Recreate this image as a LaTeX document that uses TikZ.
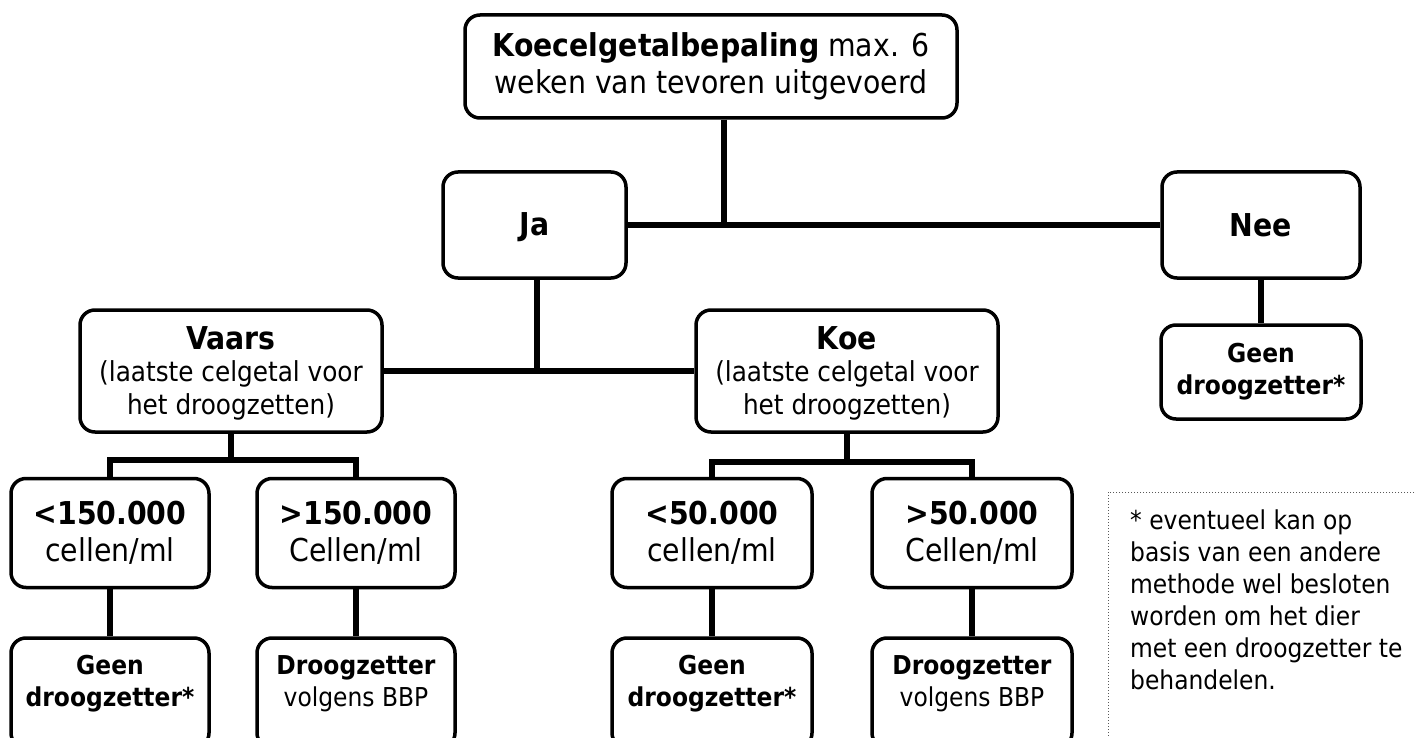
\documentclass[tikz,border=0pt]{standalone}
\usepackage{fontspec}
\setmainfont{DejaVu Sans Condensed}
\newcommand\maintxt{\fontsize{31.5}{37}\selectfont}
\newcommand\subtxt{\fontsize{27.5}{33}\selectfont}
\newcommand\lowtxt{\fontsize{26}{32}\selectfont}

\begin{document}
\begin{tikzpicture}[x=1pt,y=-1pt,
        box/.style={draw, line width=3.5pt, rounded corners=15pt, align=center, inner sep=0pt, font=\maintxt},
        lowbox/.style={box, font=\lowtxt, minimum width=198, minimum height=110, text depth=24pt},
        link/.style={line width=5.5pt}]
        \useasboundingbox (0,0) rectangle (1416,738);
        \clip (0,0) rectangle (1416,738);

        % top levels
        \node[box, minimum width=492, minimum height=103] (test) at (711,66.5)
            {\textbf{Koecelgetalbepaling} max. 6\\weken van tevoren uitgevoerd};
        \node[box, minimum width=183, minimum height=106, text depth=2pt] (ja) at (534.5,225) {\textbf{Ja}};
        \node[box, minimum width=198, minimum height=106] (nee) at (1261,225) {\textbf{Nee}};
        \coordinate (split) at (724,226);

        \node[box, minimum width=302, minimum height=122, text depth=0pt] (vaars) at (231,371)
            {\textbf{Vaars}\\[-5pt]\subtxt (laatste celgetal voor\\[-4pt]\subtxt het droogzetten)};
        \node[box, minimum width=302, minimum height=122, text depth=0pt] (koe) at (847,371)
            {\textbf{Koe}\\[-5pt]\subtxt (laatste celgetal voor\\[-4pt]\subtxt het droogzetten)};
        \node[box, font=\lowtxt, minimum width=200, minimum height=94] (geenc) at (1261,372)
            {\textbf{Geen}\\\textbf{droogzetter*}};

        % cell counts
        \node[box, minimum width=198, minimum height=109] (vlow) at (110,533) {\textbf{<150.000}\\cellen/ml};
        \node[box, minimum width=198, minimum height=109] (vhigh) at (356,533) {\textbf{>150.000}\\Cellen/ml};
        \node[box, minimum width=200, minimum height=109] (klow) at (712,533) {\textbf{<50.000}\\cellen/ml};
        \node[box, minimum width=200, minimum height=109] (khigh) at (972,533) {\textbf{>50.000}\\Cellen/ml};

        % advice
        \node[lowbox] (geena) at (110,693) {\textbf{Geen}\\\textbf{droogzetter*}};
        \node[lowbox] (droga) at (356,693) {\textbf{Droogzetter}\\volgens BBP};
        \node[lowbox, minimum width=200] (geenb) at (712,693) {\textbf{Geen}\\\textbf{droogzetter*}};
        \node[lowbox, minimum width=200] (drogb) at (972,693) {\textbf{Droogzetter}\\volgens BBP};

        % connectors
        \draw[link] (ja.east) -- (nee.west);
        \draw[link] (test.south -| split) -- (split);
        \draw[link] (vaars.east) -- (koe.west);
        \draw[link] (ja.south -| 537,0) -- (vaars.east -| 537,0);
        \draw[link] (nee.south) -- (nee.south |- geenc.north);
        \draw[link] (vaars.south) -- ++(0,26) coordinate (vfork);
        \draw[link] (vlow.north) |- (vfork) -| (vhigh.north);
        \draw[link] (koe.south) -- ++(0,28) coordinate (kfork);
        \draw[link] (klow.north) |- (kfork) -| (khigh.north);
        \draw[link] (vlow.south) -- (geena.north);
        \draw[link] (vhigh.south) -- (droga.north);
        \draw[link] (klow.south) -- (geenb.north);
        \draw[link] (khigh.south) -- (drogb.north);

        % footnote
        \draw[dotted, line width=1pt, gray!70!black] (1108,492) rectangle (1440,760);
        \node[font=\lowtxt, align=left, anchor=north west, inner sep=0pt] (note) at (1130,510)
            {* eventueel kan op\\basis van een andere\\methode wel besloten\\worden om het dier\\met een droogzetter te\\behandelen.};
\end{tikzpicture}
\end{document}
